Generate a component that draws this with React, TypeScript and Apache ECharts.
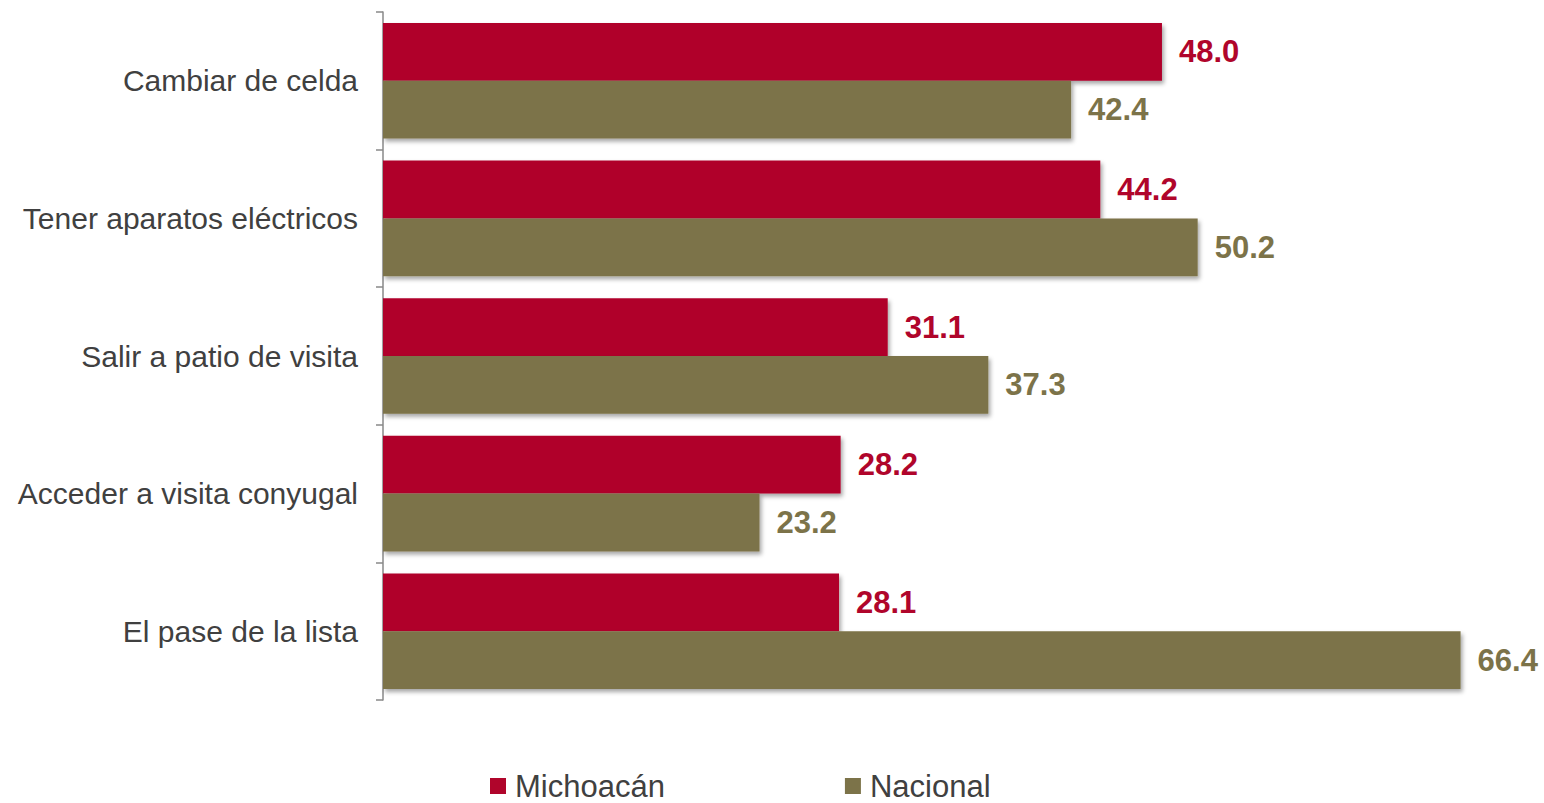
import React, { useEffect, useRef } from "react";
import * as echarts from "echarts";

const categories = [
  "Cambiar de celda",
  "Tener aparatos eléctricos",
  "Salir a patio de visita",
  "Acceder a visita conyugal",
  "El pase de la lista",
];
const michoacan = [48.0, 44.2, 31.1, 28.2, 28.1];
const nacional = [42.4, 50.2, 37.3, 23.2, 66.4];
const seriesNames = ["Michoacán", "Nacional"];

const RED = "#B0052B";
const OLIVE = "#7C7349";
const FONT = "Liberation Sans, Arial, sans-serif";

export default function App() {
  const ref = useRef<HTMLDivElement>(null);
  useEffect(() => {
    if (!ref.current) return;
    const chart = echarts.init(ref.current, null, { renderer: "svg" });
    const shadow = {
      shadowColor: "rgba(0,0,0,0.35)",
      shadowBlur: 4,
      shadowOffsetX: 2,
      shadowOffsetY: 3,
    };
    const labelBase = {
      show: true,
      position: "right",
      distance: 17,
      fontFamily: FONT,
      fontSize: 31,
      fontWeight: "bold",
      formatter: (p: any) => Number(p.value).toFixed(1),
    };
    chart.setOption({
      animation: false,
      backgroundColor: "#ffffff",
      textStyle: { fontFamily: FONT },
      grid: { left: 383, right: 25, top: 12, bottom: 103, containLabel: false },
      legend: {
        data: seriesNames,
        left: 485,
        top: 764,
        itemWidth: 16,
        itemHeight: 16,
        itemGap: 180,
        icon: "rect",
        textStyle: {
          fontSize: 31,
          lineHeight: 34,
          color: "#404040",
          fontFamily: FONT,
          padding: [0, 0, 0, 4],
        },
      },
      xAxis: {
        type: "value",
        min: 0,
        max: 70,
        show: false,
        splitLine: { show: false },
      },
      yAxis: {
        type: "category",
        data: categories,
        inverse: true,
        axisLine: { show: true, lineStyle: { color: "#888888", width: 1.5 } },
        axisTick: { show: true, length: 7, lineStyle: { color: "#888888", width: 1.5 } },
        axisLabel: {
          fontSize: 30,
          color: "#404040",
          margin: 25,
          fontFamily: FONT,
        },
      },
      series: [
        {
          name: seriesNames[0],
          type: "bar",
          data: michoacan,
          barGap: "0%",
          barCategoryGap: "16%",
          itemStyle: { color: RED, ...shadow },
          label: { ...labelBase, color: RED },
        },
        {
          name: seriesNames[1],
          type: "bar",
          data: nacional,
          barGap: "0%",
          barCategoryGap: "16%",
          itemStyle: { color: OLIVE, ...shadow },
          label: { ...labelBase, color: OLIVE },
        },
      ],
    });
    return () => chart.dispose();
  }, []);
  return (
    <div
      ref={ref}
      style={{ position: "fixed", left: 0, top: 0, width: 1544, height: 803 }}
    />
  );
}
